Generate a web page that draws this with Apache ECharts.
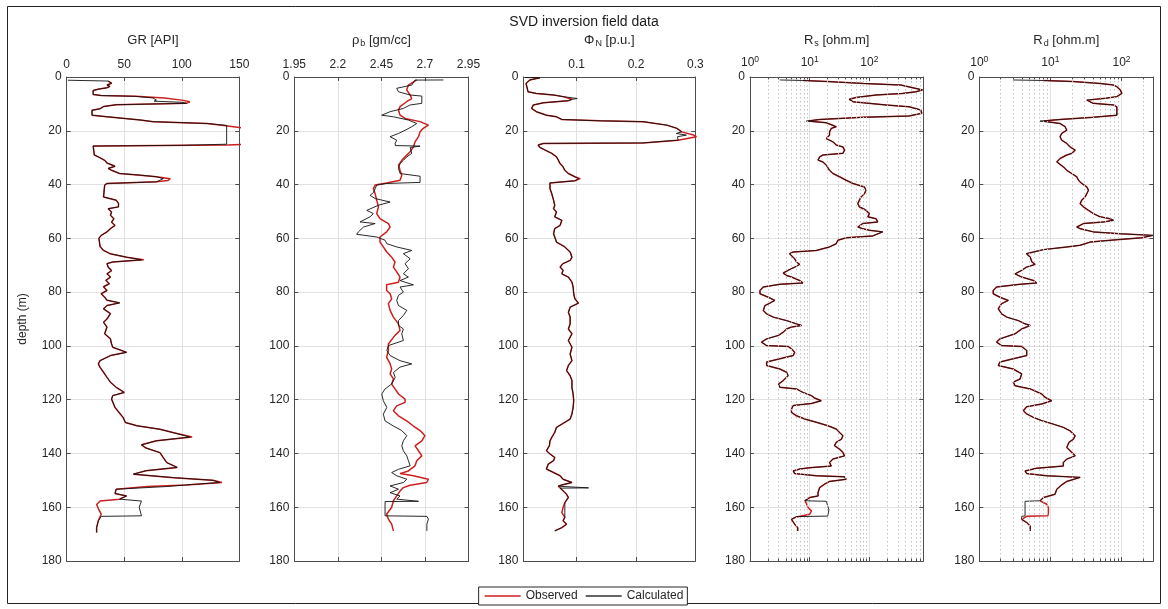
<!DOCTYPE html>
<html><head><meta charset="utf-8">
<script src="https://cdn.jsdelivr.net/npm/echarts@6/dist/echarts.min.js"></script>
<style>html,body{margin:0;padding:0;background:#fff}#c{width:1168px;height:609px}</style>
</head><body><div id="c"></div>
<script>
// ---------------- data (each point: [depth (m), value]) ----------------
const depthTicks = [0, 20, 40, 60, 80, 100, 120, 140, 160, 180];
const grTicks = [0, 50, 100, 150];
const rhoTicks = [1.95, 2.2, 2.45, 2.7, 2.95];
const phiTicks = [0.1, 0.2, 0.3];
const resTicks = [1, 10, 100];
const rsMinor = [2,3,4,5,6,7,8,9,20,30,40,50,60,70,80,90,200,300,400,500,600,700];
const rdMinor = [2,3,4,5,6,7,8,9,20,30,40,50,60,70,80,90,200];
const seriesNames = ['Observed', 'Calculated'];

const grObs = [[1.5,36],[2.3,39],[3.0,35],[3.5,37.6],[4.0,35],[4.5,28],[5.0,23],[6.5,23],[6.9,30],[7.2,60],[7.8,85],[8.6,100],[9.2,107],[9.8,104],[10.3,43],[11,32],[11.8,29],[12.4,22],[14.2,22],[14.8,35],[16.0,64],[16.6,75],[17.3,122],[18.2,140],[18.9,152],[19.5,158],[25.0,158],[25.3,140],[25.7,23],[29.0,24],[29.7,27.5],[31.0,33],[32.0,35],[33.2,42],[34.0,36],[34.7,39],[35.9,46],[36.5,64],[37.1,78],[37.8,90],[38.5,88],[39.0,78],[39.6,35],[40.2,33],[44.6,32],[45.8,43],[47,45],[48.3,45],[49,36],[50.2,39],[51.4,38],[52.7,41],[54.0,39],[55.2,42],[56.4,38],[57.6,35],[58.9,30],[60,28],[63,29],[64.5,32],[65.7,37.6],[67,52],[68,67],[68.8,40],[69.4,35],[70.7,36],[72,39],[73.2,35],[74.4,38],[75.6,34],[76.9,37],[78,32],[79.4,35],[80.6,30],[81.9,33],[83,35],[84,46],[85,35],[86.2,32],[88,38],[90,35],[91.2,32],[93,35],[95.5,33],[97.4,38],[99.3,39],[100.5,40],[102.4,52],[103.6,38],[105.5,29],[106.7,27.5],[108,29],[109.8,32],[111.7,35],[113.5,38],[115.4,43],[117.3,50],[118.5,40],[119.8,39],[122.9,42],[126.6,49],[128.5,51],[129.7,61],[131,81],[132.3,93],[133.9,109],[135.3,78],[136.8,65],[138,69],[139.7,81],[141.6,84],[143.4,87],[145.2,96],[146.4,69],[147.7,58],[149,93],[150,127],[150.8,135],[151.7,104],[152.3,70],[153.3,43],[154.9,42],[155.8,52],[157,46],[157.7,29],[159,26],[160.5,27.5],[162.6,30],[165,27.5],[167.6,26],[169.4,26]];
const grCalc = [[1.2,1],[1.5,36],[2.3,39],[3.0,35],[3.5,37.6],[4.0,35],[4.5,28],[5.0,23],[6.5,23],[6.9,30],[7.2,60],[7.8,75],[8.6,78],[9.0,76],[9.4,100],[9.8,104],[10.3,43],[11,32],[11.8,29],[12.4,22],[14.2,22],[14.8,35],[16.0,64],[16.6,75],[17.3,122],[18.0,139],[18.6,139],[25.0,139],[25.4,100],[25.7,23],[29.0,24],[29.7,27.5],[31.0,33],[32.0,35],[33.2,42],[34.0,36],[34.7,39],[35.9,46],[36.5,64],[37.1,78],[37.8,84],[38.5,84],[39.0,78],[39.6,35],[40.2,33],[44.6,32],[45.8,43],[47,45],[48.3,45],[49,36],[50.2,39],[51.4,38],[52.7,41],[54.0,39],[55.2,42],[56.4,38],[57.6,35],[58.9,30],[60,28],[63,29],[64.5,32],[65.7,37.6],[67,52],[68,65],[68.8,40],[69.4,35],[70.7,36],[72,39],[73.2,35],[74.4,38],[75.6,34],[76.9,37],[78,32],[79.4,35],[80.6,30],[81.9,33],[83,35],[84,46],[85,35],[86.2,32],[88,38],[90,35],[91.2,32],[93,35],[95.5,33],[97.4,38],[99.3,39],[100.5,40],[102.4,52],[103.6,38],[105.5,29],[106.7,27.5],[108,29],[109.8,32],[111.7,35],[113.5,38],[115.4,43],[117.3,50],[118.5,40],[119.8,39],[122.9,42],[126.6,49],[128.5,51],[129.7,61],[131,81],[132.3,93],[133.9,107],[135.3,78],[136.8,65],[138,69],[139.7,81],[141.6,84],[143.4,87],[145.2,96],[146.4,69],[147.7,58],[149,93],[150,127],[150.8,133],[151.7,104],[152.3,87],[153.3,43],[154.9,42],[155.8,52],[157,46],[157.5,46],[157.7,65],[160,63],[163.2,65],[163.4,30],[165,27.5],[167.6,26],[169.4,26]];

const rhoObs = [[1.1,2.653],[3,2.605],[4.8,2.595],[6.7,2.615],[8,2.624],[9.2,2.595],[11,2.557],[12.3,2.548],[14.2,2.557],[15.4,2.586],[16.6,2.672],[17.9,2.72],[19.1,2.69],[20.4,2.672],[22.2,2.663],[24.1,2.643],[26,2.634],[27.8,2.615],[29.7,2.586],[31,2.567],[32.8,2.548],[34.7,2.557],[36.5,2.567],[38.4,2.557],[39.4,2.48],[40.2,2.414],[41.5,2.404],[43.4,2.414],[45.8,2.423],[48.3,2.433],[50.8,2.423],[52.7,2.442],[54.5,2.49],[55.8,2.5],[57.6,2.48],[59.5,2.442],[61.4,2.442],[63.2,2.461],[65,2.48],[67,2.509],[68.8,2.528],[70.7,2.519],[72.5,2.538],[74.4,2.557],[76.3,2.548],[77.3,2.48],[79.4,2.48],[80.6,2.5],[82.5,2.509],[84.3,2.49],[86.8,2.5],[89.3,2.519],[91.8,2.548],[94.3,2.557],[96.1,2.528],[99.3,2.49],[101.7,2.49],[104.2,2.48],[106.7,2.5],[108.6,2.509],[110.4,2.5],[112.3,2.519],[114.2,2.509],[116,2.528],[117.9,2.548],[119.8,2.586],[121,2.586],[122.3,2.538],[124.1,2.519],[126,2.548],[127.9,2.595],[129.8,2.634],[131.5,2.672],[133.4,2.7],[135.3,2.682],[137.2,2.643],[139,2.663],[140.9,2.682],[142.7,2.653],[144.6,2.643],[146.5,2.605],[147.5,2.557],[148.3,2.634],[149.6,2.72],[150.8,2.71],[151.8,2.615],[152.7,2.576],[154,2.557],[155.8,2.538],[157.6,2.519],[160,2.509],[162.6,2.48],[164.4,2.49],[166.3,2.509],[168.8,2.519]];
const rhoCalc = [[1.1,2.806],[1.15,2.643],[1.8,2.634],[3,2.624],[4.2,2.538],[5.5,2.548],[6.1,2.538],[6.7,2.615],[7.1,2.682],[9.8,2.682],[10.4,2.615],[11.7,2.576],[12.9,2.5],[14.2,2.452],[14.8,2.519],[16,2.605],[17.3,2.653],[18.5,2.624],[19.8,2.586],[21,2.548],[22.2,2.5],[23.5,2.538],[24.7,2.529],[25.5,2.53],[25.7,2.672],[26.2,2.615],[28.4,2.624],[29.7,2.596],[31,2.576],[32.2,2.557],[34,2.548],[35.9,2.557],[36.5,2.56],[36.9,2.672],[39.2,2.672],[39.6,2.48],[40.2,2.423],[43,2.404],[44,2.385],[45.2,2.414],[46.5,2.5],[47.7,2.433],[49.6,2.366],[50.8,2.404],[52,2.385],[53.9,2.327],[54.5,2.414],[55.8,2.347],[57.6,2.318],[58.5,2.308],[59.5,2.423],[60.7,2.471],[62,2.481],[63.2,2.538],[64.5,2.624],[65.7,2.576],[67.6,2.615],[69.4,2.586],[71.3,2.605],[73.2,2.576],[74.4,2.605],[75.7,2.557],[77.3,2.634],[78.1,2.557],[80,2.576],[81.2,2.548],[83.1,2.538],[85,2.548],[86.8,2.596],[88.7,2.576],[90.6,2.548],[92.4,2.548],[93.7,2.576],[95.5,2.567],[98,2.576],[99.9,2.49],[101.7,2.481],[103.6,2.5],[105.5,2.557],[106.7,2.624],[107.9,2.557],[109.9,2.519],[111.7,2.529],[114.2,2.509],[116,2.471],[117.9,2.452],[120.4,2.461],[122.9,2.481],[125.4,2.461],[127.9,2.471],[129.8,2.519],[131.5,2.567],[133.4,2.596],[135.3,2.576],[137.2,2.567],[139,2.576],[140.9,2.596],[142.7,2.605],[144.6,2.615],[145.9,2.548],[147.1,2.509],[148.3,2.538],[149.6,2.596],[150.8,2.576],[152.1,2.5],[153.3,2.548],[154.6,2.5],[155.8,2.557],[157,2.538],[157.8,2.663],[157.9,2.471],[163.2,2.471],[163.4,2.711],[164.4,2.72],[166.3,2.711],[168.8,2.711]];

const phiObs = [[0.3,0.038],[1.1,0.021],[2.4,0.0145],[3.6,0.016],[5.5,0.018],[6.1,0.032],[6.7,0.061],[7.3,0.077],[8.3,0.092],[8.8,0.086],[9.6,0.044],[10.4,0.027],[11.7,0.024],[12.9,0.032],[14.2,0.049],[14.8,0.066],[15.8,0.075],[16.3,0.139],[16.6,0.212],[17.9,0.252],[19.1,0.269],[20.4,0.277],[21.6,0.297],[22.2,0.302],[23.5,0.271],[24.1,0.269],[24.5,0.212],[24.7,0.044],[25.3,0.035],[26.2,0.038],[27.2,0.047],[28.4,0.058],[29.7,0.066],[30.9,0.069],[32.2,0.072],[33.4,0.077],[34.7,0.080],[35.9,0.086],[37.1,0.097],[37.8,0.106],[38.6,0.097],[39.4,0.055],[41.5,0.055],[43.4,0.058],[45.8,0.061],[47.7,0.063],[49,0.061],[50.2,0.066],[52,0.063],[53.3,0.075],[55.2,0.072],[56.4,0.063],[58.3,0.061],[59.5,0.063],[61.4,0.066],[63.2,0.080],[65.1,0.089],[67,0.092],[68.2,0.089],[69.4,0.077],[70.7,0.072],[71.9,0.077],[73.2,0.075],[74.4,0.086],[76.3,0.092],[78.1,0.094],[80.6,0.095],[82.5,0.097],[84.1,0.103],[85.6,0.089],[87.5,0.086],[89.3,0.089],[91.8,0.089],[93.7,0.086],[95.5,0.092],[98,0.086],[100.5,0.092],[103,0.089],[105.5,0.092],[107.3,0.086],[109.2,0.083],[111.1,0.089],[112.9,0.092],[115.4,0.092],[117.9,0.094],[120.4,0.095],[122.9,0.094],[125.3,0.092],[127.2,0.089],[129.1,0.075],[130.3,0.066],[132.2,0.063],[134,0.058],[135.3,0.055],[137.1,0.054],[139,0.049],[140.2,0.055],[141.5,0.063],[142.7,0.061],[144,0.052],[145.8,0.049],[147.1,0.061],[148.3,0.072],[149.6,0.077],[150.8,0.092],[151.7,0.075],[152.2,0.069],[152.9,0.072],[153.9,0.077],[155.2,0.083],[156.4,0.086],[158.3,0.080],[160.1,0.077],[162,0.075],[163.8,0.080],[165,0.077],[166.3,0.083],[167.6,0.075],[168.8,0.063]];
const phiCalc = [[0.2,0.013],[0.3,0.038],[1.1,0.021],[2.4,0.0145],[3.6,0.016],[5.5,0.018],[6.1,0.032],[6.7,0.061],[7.3,0.077],[8.0,0.101],[8.3,0.092],[8.8,0.086],[9.6,0.044],[10.4,0.027],[11.7,0.024],[12.9,0.032],[14.2,0.049],[14.8,0.066],[15.8,0.075],[16.3,0.139],[16.6,0.212],[17.9,0.252],[19.1,0.269],[20.4,0.277],[21.0,0.268],[21.6,0.285],[22.2,0.27],[23.5,0.271],[24.1,0.269],[24.5,0.212],[24.7,0.044],[25.3,0.035],[26.2,0.038],[27.2,0.047],[28.4,0.058],[29.7,0.066],[30.9,0.069],[32.2,0.072],[33.4,0.077],[34.7,0.080],[35.9,0.086],[37.1,0.097],[37.8,0.103],[38.6,0.097],[39.4,0.055],[41.5,0.055],[43.4,0.058],[45.8,0.061],[47.7,0.063],[49,0.061],[50.2,0.066],[52,0.063],[53.3,0.075],[55.2,0.072],[56.4,0.063],[58.3,0.061],[59.5,0.063],[61.4,0.066],[63.2,0.080],[65.1,0.089],[67,0.092],[68.2,0.089],[69.4,0.077],[70.7,0.072],[71.9,0.077],[73.2,0.075],[74.4,0.086],[76.3,0.092],[78.1,0.094],[80.6,0.095],[82.5,0.097],[84.1,0.103],[85.6,0.089],[87.5,0.086],[89.3,0.089],[91.8,0.089],[93.7,0.086],[95.5,0.092],[98,0.086],[100.5,0.092],[103,0.089],[105.5,0.092],[107.3,0.086],[109.2,0.083],[111.1,0.089],[112.9,0.092],[115.4,0.092],[117.9,0.094],[120.4,0.095],[122.9,0.094],[125.3,0.092],[127.2,0.089],[129.1,0.075],[130.3,0.066],[132.2,0.063],[134,0.058],[135.3,0.055],[137.1,0.054],[139,0.049],[140.2,0.055],[141.5,0.063],[142.7,0.061],[144,0.052],[145.8,0.049],[147.1,0.061],[148.3,0.072],[149.6,0.077],[150.8,0.092],[151.7,0.075],[152.2,0.069],[152.8,0.12],[152.9,0.072],[153.9,0.077],[155.2,0.083],[156.4,0.086],[158.3,0.080],[160.1,0.080],[162,0.080],[163.8,0.080],[165,0.077],[166.3,0.083],[167.6,0.075],[168.8,0.063]];

const rsObs = [[1.3,7.7],[1.7,20],[2.4,80],[3,337],[4.8,774],[5.5,600],[6.1,359],[6.7,129],[7.6,60],[8.3,46],[9.2,53],[9.8,56],[10.4,190],[11.1,464],[12.3,726],[13.5,755],[14.5,464],[15,77],[15.8,14.7],[16.4,9.5],[17,19],[17.5,21.5],[18.5,27.8],[19.1,23],[20.4,21.5],[21.6,21.5],[22.9,19],[24.1,24.5],[25.3,27.8],[26,36],[27.2,38.3],[28.4,36],[29,16.7],[29.7,14.7],[30.3,15.6],[30.9,13.8],[31.6,16.7],[32.8,19],[33.4,20.2],[34.7,21.5],[35.9,24.5],[37.1,31.6],[38.4,40.8],[39.6,53],[40.9,82.5],[42.1,88],[43.4,82.5],[44.6,72.6],[45.8,68],[47.1,64],[48.3,68],[49,77],[49.6,88],[50.8,100],[52,94],[52.7,129],[53.9,138],[54.5,77],[55.8,64],[56.4,77],[57,100],[57.6,167],[58.3,178],[59.1,114],[59.8,40.8],[60.7,29.7],[62,27.8],[63.2,21.5],[64.5,12.9],[65.1,5.3],[65.7,4.6],[67.6,5.6],[68.8,6.0],[69.7,6.8],[70.7,5.6],[71.9,4.35],[72.9,3.6],[73.8,4.1],[74.4,4.95],[75.7,6.8],[76.6,7.7],[77.1,3.16],[78.1,1.67],[79.4,1.47],[80.6,1.47],[81.9,2.02],[83.1,2.6],[84.1,2.15],[85,1.78],[86.8,1.67],[88.1,1.9],[89.3,2.45],[90.6,4.1],[91.8,6.0],[92.4,7.3],[93,4.95],[93.7,4.1],[94.9,3.6],[96.1,3.0],[97.4,1.9],[98.6,1.56],[99.9,1.9],[100.2,4.35],[101.1,4.95],[102.4,5.6],[103.6,5.3],[104.8,3.16],[106,1.9],[107.3,1.9],[108.6,3.16],[109.8,4.1],[111.1,4.35],[112.9,3.6],[114.2,3.0],[115.4,3.16],[116,6.0],[117.3,7.7],[118.5,10.7],[119.4,12.1],[120.4,15.6],[121.4,10.7],[122.2,5.3],[123.5,4.95],[124.7,4.95],[126,6.0],[127.2,8.25],[128.4,12.9],[129.7,20.2],[130.9,27.8],[132.2,31.6],[133.4,36],[134.7,34],[135.9,27.8],[137.1,26],[138.4,31.6],[139.6,36],[140.9,38.3],[142.1,24.5],[143.4,21.5],[144.7,23],[145.3,10],[145.8,6.8],[146.5,5.3],[147.5,5.6],[148.3,12.9],[148.7,38.3],[149.6,40.8],[150.4,21.5],[151.4,17.8],[152.7,14.7],[154.5,13.8],[155.8,13.8],[156.4,10],[157.6,8.25],[158.6,8.8],[160.1,9.4],[161.4,10.7],[162.6,10],[163.6,6.0],[164.5,4.95],[165.1,4.95],[166.3,5.6],[167.6,6.3],[168.8,6.3]];
const rsCalc = [[1.1,3.16],[1.3,7.7],[1.7,20],[2.4,80],[3,337],[4.8,774],[5.5,600],[6.1,359],[6.7,129],[7.6,60],[8.3,46],[9.2,53],[9.8,56],[10.4,190],[11.1,464],[12.3,726],[13.5,755],[14.5,464],[15,77],[15.8,14.7],[16.4,8.8],[17,19],[17.5,21.5],[18.5,27.8],[19.1,23],[20.4,21.5],[21.6,21.5],[22.9,19],[24.1,24.5],[25.3,27.8],[26,36],[27.2,38.3],[28.4,36],[29,16.7],[29.7,14.7],[30.3,15.6],[30.9,13.8],[31.6,16.7],[32.8,19],[33.4,20.2],[34.7,21.5],[35.9,24.5],[37.1,31.6],[38.4,40.8],[39.6,53],[40.9,82.5],[42.1,88],[43.4,82.5],[44.6,72.6],[45.8,68],[47.1,64],[48.3,68],[49,82],[49.6,88],[50.8,100],[52,94],[52.7,129],[53.9,138],[54.5,77],[55.8,64],[56.4,77],[57,100],[57.6,167],[58.3,178],[59.1,114],[59.8,40.8],[60.7,29.7],[62,27.8],[63.2,21.5],[64.5,12.9],[65.1,5.3],[65.7,4.6],[67.6,5.6],[68.8,6.0],[69.7,6.8],[70.7,5.6],[71.9,4.35],[72.9,3.6],[73.8,4.1],[74.4,4.95],[75.7,6.8],[76.6,7.7],[77.1,3.16],[78.1,1.67],[79.4,1.47],[80.6,1.47],[81.9,2.02],[83.1,2.6],[84.1,2.15],[85,1.78],[86.8,1.67],[88.1,1.9],[89.3,2.45],[90.6,4.1],[91.8,6.0],[92.4,7.3],[93,4.95],[93.7,4.1],[94.9,3.6],[96.1,3.0],[97.4,1.9],[98.6,1.56],[99.9,1.9],[100.2,4.35],[101.1,4.95],[102.4,5.6],[103.6,5.3],[104.8,3.16],[106,1.9],[107.3,1.9],[108.6,3.16],[109.8,4.1],[111.1,4.35],[112.9,3.6],[114.2,3.0],[115.4,3.16],[116,6.0],[117.3,7.7],[118.5,10.7],[119.4,12.1],[120.4,15.6],[121.4,10.7],[122.2,5.3],[123.5,4.95],[124.7,4.95],[126,6.0],[127.2,8.25],[128.4,12.9],[129.7,20.2],[130.9,27.8],[132.2,31.6],[133.4,36],[134.7,34],[135.9,27.8],[137.1,26],[138.4,31.6],[139.6,36],[140.9,38.3],[142.1,24.5],[143.4,21.5],[144.7,23],[145.3,10],[145.8,6.8],[146.5,5.3],[147.5,5.6],[148.3,12.9],[148.7,38.3],[149.6,40.8],[150.4,21.5],[151.4,17.8],[152.7,14.7],[154.5,13.8],[155.8,13.8],[156.4,10],[157.6,8.25],[157.8,19],[161,21],[163.3,20],[163.5,6.0],[164.5,4.95],[165.1,4.95],[166.3,5.6],[167.6,6.3],[168.8,6.3]];

const rdObs = [[1.3,8],[1.7,21],[2.4,50],[3,77],[3.6,86],[4.8,96],[6.1,101],[7.3,86],[7.9,60],[8.6,32.5],[9.2,32.5],[9.8,40],[10.4,77],[11.1,86],[12.3,86],[14.2,86],[15,40],[15.8,13.7],[16.4,8],[17.3,13.7],[18.5,16.1],[19.8,17],[21,14.4],[22.2,13.7],[23.5,14.4],[24.7,17],[26,18.9],[27.2,22.3],[28.4,20],[29,17],[30.3,13.7],[31.6,12.3],[32.2,13],[33.4,15.2],[34.7,17],[35.9,20],[37.1,23.5],[38.4,24.8],[39.6,27.6],[40.9,32.5],[42.1,34.3],[43.4,32.5],[44.6,30.8],[45.8,27.6],[47.1,26.2],[48.3,29.2],[49.6,34.3],[50.8,40.3],[52,50],[52.7,69],[53.3,77],[53.9,55.8],[54.5,29.2],[55.8,23.5],[56.4,26.2],[57.6,40.3],[58.3,96],[58.9,276],[59.8,193],[60.5,86],[61.4,36.2],[62.6,26.2],[63.2,17],[64.2,8],[65.1,5.8],[65.7,4.6],[67,5.2],[68.8,5.5],[69.7,6.1],[70.7,4.6],[71.9,3.95],[73.2,3.18],[74.4,3.95],[75.7,5.8],[76.6,6.4],[77.1,3.74],[78.1,1.75],[79.4,1.57],[80.6,1.57],[81.9,1.95],[83.1,2.56],[84.3,2.06],[86.2,1.85],[88.1,2.06],[89.3,2.43],[90.6,3.54],[91.8,4.4],[92.4,5.2],[93.7,3.95],[95.5,3.18],[97.4,1.95],[98.6,1.75],[99.9,2.06],[100.2,3.95],[101.7,4.64],[103.6,4.64],[104.8,3.0],[106,1.95],[107.3,1.85],[108.6,3.0],[110.4,3.95],[112.3,3.74],[113.5,3.0],[114.8,3.18],[116,5.2],[117.9,7.55],[119.1,8.41],[120.4,10.4],[121.6,7.55],[122.6,4.64],[124.1,4.17],[125.3,4.64],[126.6,5.76],[127.8,7.55],[129.1,11],[130.3,15.2],[131.6,18.9],[133.4,22.3],[134.7,21.1],[135.9,18.2],[137.8,17],[139.6,20],[140.9,22.3],[142.1,17],[143.4,15.2],[144.7,15.2],[145.5,6.4],[146.5,4.4],[147.5,4.64],[148.3,8.9],[148.9,26.2],[149.6,27.6],[150.4,17],[151.7,14.4],[153.3,12.3],[155.2,11.6],[155.8,11],[156.4,8],[157.6,7.15],[158.9,8.88],[160.1,9.37],[162,9.37],[163.2,9.2],[163.4,4.64],[164.5,3.95],[165.7,4.64],[167,5.2],[168.8,5.2]];
const rdCalc = [[1.1,3.0],[1.3,8],[1.7,21],[2.4,50],[3,77],[3.6,86],[4.8,96],[6.1,101],[7.3,86],[7.9,60],[8.6,32.5],[9.2,32.5],[9.8,40],[10.4,77],[11.1,86],[12.3,86],[14.2,86],[15,40],[15.8,13.7],[16.4,7.15],[17.3,13.7],[18.5,16.1],[19.8,17],[21,14.4],[22.2,13.7],[23.5,14.4],[24.7,17],[26,18.9],[27.2,22.3],[28.4,20],[29,17],[30.3,13.7],[31.6,12.3],[32.2,13],[33.4,15.2],[34.7,17],[35.9,20],[37.1,23.5],[38.4,24.8],[39.6,27.6],[40.9,32.5],[42.1,34.3],[43.4,32.5],[44.6,30.8],[45.8,27.6],[47.1,26.2],[48.3,29.2],[49.6,34.3],[50.8,40.3],[52,50],[52.7,69],[53.3,77],[53.9,55.8],[54.5,29.2],[55.8,23.5],[56.4,26.2],[57.6,40.3],[58.3,96],[58.9,276],[59.8,193],[60.5,86],[61.4,36.2],[62.6,26.2],[63.2,17],[64.2,8],[65.1,5.8],[65.7,4.6],[67,5.2],[68.8,5.5],[69.7,6.1],[70.7,4.6],[71.9,3.95],[73.2,3.18],[74.4,3.95],[75.7,5.8],[76.6,6.4],[77.1,3.74],[78.1,1.75],[79.4,1.57],[80.6,1.57],[81.9,1.95],[83.1,2.56],[84.3,2.06],[86.2,1.85],[88.1,2.06],[89.3,2.43],[90.6,3.54],[91.8,4.4],[92.4,5.2],[93.7,3.95],[95.5,3.18],[97.4,1.95],[98.6,1.75],[99.9,2.06],[100.2,3.95],[101.7,4.64],[103.6,4.64],[104.8,3.0],[106,1.95],[107.3,1.85],[108.6,3.0],[110.4,3.95],[112.3,3.74],[113.5,3.0],[114.8,3.18],[116,5.2],[117.9,7.55],[119.1,8.41],[120.4,10.4],[121.6,7.55],[122.6,4.64],[124.1,4.17],[125.3,4.64],[126.6,5.76],[127.8,7.55],[129.1,11],[130.3,15.2],[131.6,18.9],[133.4,22.3],[134.7,21.1],[135.9,18.2],[137.8,17],[139.6,20],[140.9,22.3],[142.1,17],[143.4,15.2],[144.7,15.2],[145.5,6.4],[146.5,4.4],[147.5,4.64],[148.3,8.9],[148.9,26.2],[149.6,27.6],[150.4,17],[151.7,14.4],[153.3,12.3],[155.2,11.6],[155.8,11],[156.4,8],[157.6,7.15],[157.8,4.4],[163.2,4.4],[163.4,3.95],[164.5,3.95],[165.7,4.64],[167,5.2],[168.8,5.2]];

// ---------------- layout & styling ----------------
const FONT = '"Liberation Sans", Arial, Helvetica, sans-serif';
const TXT = '#262626', AX = '#4d4d4d', GRIDC = '#e2e2e2';
const RED = '#cc1f1f', BLACK = '#111111';
const gridLefts = [66.7, 294.3, 523.3, 750, 979.3];
const gridWidths = [172.6, 174.2, 172, 173.3, 174];
const gridTop = 77, gridHeight = 484;
const minorTickLen = 0.9; // in depth units (≈2.4 px)

const nameRich = {
  a: {fontSize: 13, lineHeight: 18, color: TXT, fontFamily: FONT},
  s: {fontSize: 9, lineHeight: 10, padding: [8, 0, 0, 1], color: TXT, fontFamily: FONT}
};
const labRich = {
  b: {fontSize: 12, lineHeight: 16, color: TXT, fontFamily: FONT},
  p: {fontSize: 8.5, lineHeight: 9, padding: [0, 0, 7, 0], color: TXT, fontFamily: FONT}
};
const logFmt = v => '{b|10}{p|' + Math.round(Math.log10(v)) + '}';
const numFmt = v => String(parseFloat(Number(v).toFixed(3)));

const panels = [
  {name: '{a|GR [API]}', type: 'value', min: 0, max: 150, ticks: grTicks, fmt: numFmt, obs: grObs, calc: grCalc},
  {name: '{a|ρ}{s|b}{a| [gm/cc]}', type: 'value', min: 1.95, max: 2.95, ticks: rhoTicks, fmt: numFmt, obs: rhoObs, calc: rhoCalc},
  {name: '{a|Φ}{s|N}{a| [p.u.]}', type: 'value', min: 0.01, max: 0.3, ticks: phiTicks, fmt: numFmt, obs: phiObs, calc: phiCalc},
  {name: '{a|R}{s|s}{a| [ohm.m]}', type: 'log', min: 1, max: 800, ticks: resTicks, fmt: logFmt, obs: rsObs, calc: rsCalc, minor: rsMinor},
  {name: '{a|R}{s|d}{a| [ohm.m]}', type: 'log', min: 1, max: 280, ticks: resTicks, fmt: logFmt, obs: rdObs, calc: rdCalc, minor: rdMinor}
];

const grid = [], xAxis = [], yAxis = [], series = [];
panels.forEach((p, i) => {
  grid.push({left: gridLefts[i], top: gridTop, width: gridWidths[i], height: gridHeight});
  const base = {gridIndex: i, type: p.type, min: p.min, max: p.max};
  if (p.type === 'log') base.logBase = 10;
  xAxis.push(Object.assign({}, base, {
    position: 'top',
    axisLine: {show: true, onZero: false, lineStyle: {color: AX, width: 1}},
    axisTick: {show: true, inside: true, length: 4, customValues: p.ticks, lineStyle: {color: AX}},
    axisLabel: {show: true, customValues: p.ticks, formatter: p.fmt, color: TXT, fontSize: 12, fontFamily: FONT, margin: 6, rich: labRich},
    splitLine: {show: true, lineStyle: {color: GRIDC, width: 1}},
    minorTick: {show: false}, minorSplitLine: {show: false},
    name: p.name, nameLocation: 'middle', nameGap: 28, nameTextStyle: {rich: nameRich}
  }));
  xAxis.push(Object.assign({}, base, {
    position: 'bottom',
    axisLine: {show: true, onZero: false, lineStyle: {color: AX, width: 1}},
    axisTick: {show: true, inside: true, length: 4, customValues: p.ticks, lineStyle: {color: AX}},
    axisLabel: {show: false}, splitLine: {show: false}
  }));
  const ybase = {gridIndex: i, type: 'value', inverse: true, min: depthTicks[0], max: depthTicks[depthTicks.length - 1], interval: 20};
  yAxis.push(Object.assign({}, ybase, {
    position: 'left',
    axisLine: {show: true, onZero: false, lineStyle: {color: AX, width: 1}},
    axisTick: {show: true, inside: true, length: 4, lineStyle: {color: AX}},
    axisLabel: {show: true, color: TXT, fontSize: 12, fontFamily: FONT, margin: 5},
    splitLine: {show: true, lineStyle: {color: GRIDC, width: 1}},
    name: i === 0 ? 'depth (m)' : '', nameLocation: 'middle', nameGap: 38,
    nameTextStyle: {color: TXT, fontSize: 12, fontFamily: FONT}
  }));
  yAxis.push(Object.assign({}, ybase, {
    position: 'right',
    axisLine: {show: true, onZero: false, lineStyle: {color: AX, width: 1}},
    axisTick: {show: true, inside: true, length: 4, lineStyle: {color: AX}},
    axisLabel: {show: false}, splitLine: {show: false}
  }));
  if (p.minor) {
    const top = depthTicks[0], bot = depthTicks[depthTicks.length - 1];
    const lines = p.minor.map(v => ({xAxis: v}));
    const tickSegs = [];
    p.minor.forEach(v => {
      tickSegs.push([{coord: [v, top]}, {coord: [v, top + minorTickLen]}]);
      tickSegs.push([{coord: [v, bot]}, {coord: [v, bot - minorTickLen]}]);
    });
    series.push({
      type: 'line', xAxisIndex: 2 * i, yAxisIndex: 2 * i, data: [], z: 1, silent: true,
      markLine: {
        silent: true, symbol: ['none', 'none'], label: {show: false}, animation: false,
        lineStyle: {type: [1.5, 2.5], color: '#c4c4c4', width: 1},
        data: lines
      }
    });
    series.push({
      type: 'line', xAxisIndex: 2 * i, yAxisIndex: 2 * i, data: [], z: 5, silent: true,
      markLine: {
        silent: true, symbol: ['none', 'none'], label: {show: false}, animation: false,
        lineStyle: {type: 'solid', color: AX, width: 1},
        data: tickSegs
      }
    });
  }
  series.push({
    name: seriesNames[0], type: 'line', xAxisIndex: 2 * i, yAxisIndex: 2 * i,
    data: p.obs.map(d => [d[1], d[0]]), symbol: 'none', showSymbol: false, z: 3,
    lineStyle: {color: RED, width: 1.5}, itemStyle: {color: RED}, clip: true
  });
  series.push({
    name: seriesNames[1], type: 'line', xAxisIndex: 2 * i, yAxisIndex: 2 * i,
    data: p.calc.map(d => [d[1], d[0]]), symbol: 'none', showSymbol: false, z: 4,
    lineStyle: {color: BLACK, width: 0.9}, itemStyle: {color: BLACK}, clip: true
  });
});

const chart = echarts.init(document.getElementById('c'), null, {renderer: 'canvas'});
chart.setOption({
  animation: false,
  backgroundColor: '#ffffff',
  textStyle: {fontFamily: FONT},
  title: {text: 'SVD inversion field data', left: 'center', top: 10,
    textStyle: {fontSize: 14, fontWeight: 'normal', color: '#1a1a1a', fontFamily: FONT}},
  legend: {
    data: [
      {name: seriesNames[0], icon: 'rect', itemStyle: {color: RED}},
      {name: seriesNames[1], icon: 'rect', itemStyle: {color: '#333'}}
    ],
    left: 'center', top: 587, orient: 'horizontal',
    itemWidth: 36, itemHeight: 1.3, itemGap: 8,
    borderColor: '#262626', borderWidth: 1, padding: [3, 4, 3, 6], backgroundColor: '#fff',
    textStyle: {fontSize: 12, color: TXT, fontFamily: FONT}
  },
  graphic: [{type: 'rect', shape: {x: 7.5, y: 6.5, width: 1153, height: 597}, style: {fill: 'none', stroke: '#222', lineWidth: 1}, silent: true, z: -1}],
  grid, xAxis, yAxis, series
});
</script></body></html>
